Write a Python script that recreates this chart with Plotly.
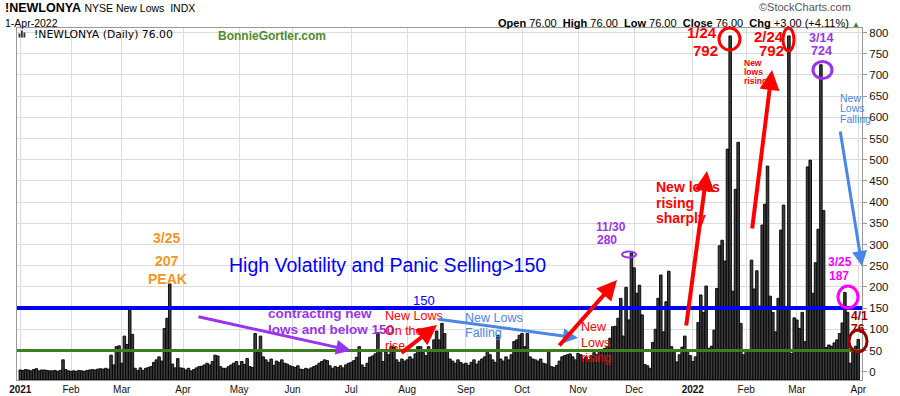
import pandas as pd
import plotly.graph_objects as go

# ---------------- data (NYSE New Lows, daily) ----------------
jan21 = [4, 3, 5, 4, 2, 5, 7, 2, 4, 4, 3, 2, 2, 3, 1, 3, 28, 5, 2]
feb21 = [1, 2, 1, 3, 2, 1, 3, 4, 5, 4, 6, 7, 6, 8, 6, 39, 16, 59, 61]
mar21 = [20, 84, 64, 145, 88, 8, 3, 9, 3, 8, 10, 12, 22, 28, 35, 25, 102, 126, 207, 18, 9, 31, 9]
apr21 = [8, 4, 8, 2, 5, 9, 12, 13, 16, 20, 16, 24, 39, 37, 12, 8, 8, 12, 16, 20, 24]
may21 = [14, 24, 17, 31, 12, 10, 90, 45, 84, 35, 28, 22, 30, 15, 25, 22, 28, 20, 18, 14]
jun21 = [12, 10, 14, 6, 5, 8, 6, 9, 12, 15, 20, 24, 28, 26, 14, 8, 12, 10, 14, 9, 16, 20]
jul21 = [22, 26, 34, 59, 16, 10, 20, 34, 37, 42, 92, 45, 24, 47, 40, 60, 58, 28, 22, 30, 25]
aug21 = [28, 35, 30, 42, 59, 59, 45, 38, 59, 48, 75, 96, 75, 114, 90, 51, 30, 25, 20, 28, 22, 18]
sep21 = [20, 15, 22, 28, 18, 25, 30, 35, 51, 40, 28, 22, 86, 30, 25, 35, 28, 40, 71, 75, 86]
oct21 = [90, 59, 90, 35, 30, 28, 25, 30, 20, 18, 47, 12, 10, 15, 25, 35, 38, 40, 42, 35, 28]
nov21 = [43, 40, 30, 35, 28, 38, 45, 40, 52, 48, 55, 60, 79, 106, 107, 126, 173, 84, 199, 122, 280]
dec21 = [245, 185, 204, 134, 17, 14, 8, 69, 100, 173, 228, 94, 165, 237, 59, 52, 23, 40, 58, 84, 51, 38]
jan22 = [24, 35, 116, 181, 140, 202, 55, 60, 98, 196, 297, 310, 261, 525, 792, 190, 430, 541, 114, 40]
feb22 = [51, 50, 263, 195, 238, 155, 346, 395, 485, 178, 140, 94, 173, 334, 393, 150, 792, 43, 127]
mar22 = [122, 102, 140, 71, 483, 499, 185, 257, 336, 724, 380, 57, 63, 60, 68, 75, 90, 115, 187, 140, 20, 50, 60]
apr22 = [76]

HOLIDAYS = ["2021-01-18", "2021-02-15", "2021-04-02", "2021-05-31", "2021-07-05",
            "2021-09-06", "2021-11-25", "2021-12-24", "2022-01-17", "2022-02-21"]
MONTH_LABELS = ["<b>2021</b>", "Feb", "Mar", "Apr", "May", "Jun", "Jul", "Aug", "Sep",
                "Oct", "Nov", "Dec", "<b>2022</b>", "Feb", "Mar", "Apr"]
Y_TICKS = list(range(0, 801, 50))

values = (jan21 + feb21 + mar21 + apr21 + may21 + jun21 + jul21 + aug21 + sep21 +
          oct21 + nov21 + dec21 + jan22 + feb22 + mar22 + apr22)
dates = [d for d in pd.bdate_range("2021-01-04", "2022-04-01")
         if d.strftime("%Y-%m-%d") not in HOLIDAYS]
labels = [d.strftime("%Y-%m-%d") for d in dates]
n = min(len(labels), len(values))
labels, values = labels[:n], values[:n]

# first trading day of each month -> tick positions
tickvals, seen = [], set()
for d in dates[:n]:
    key = (d.year, d.month)
    if key not in seen:
        seen.add(key)
        tickvals.append(d.strftime("%Y-%m-%d"))

Y_MIN, Y_MAX = -19.6, 810.6

fig = go.Figure()
fig.add_trace(go.Bar(
    x=labels, y=[v - Y_MIN for v in values], base=Y_MIN,
    marker=dict(color="#3c3c3c", line=dict(color="#000000", width=0.9)),
    hoverinfo="skip",
))

# ---------------- layout helpers ----------------
L, R, T, B = 17, 38, 28, 16
W, H = 900, 396
PW, PH = W - L - R, H - T - B


def P(px, py):
    return (px - L) / PW, (H - B - py) / PH


ann, shp = [], []


def txt(s, px, py, color="#000", size=12, bold=False, anchor="center",
        family="Liberation Sans, Arial, sans-serif"):
    x, y = P(px, py)
    ann.append(dict(text=(f"<b>{s}</b>" if bold else s), x=x, y=y, xref="paper", yref="paper",
                    xanchor=anchor, yanchor="middle", showarrow=False,
                    font=dict(color=color, size=size, family=family)))


def arrow(tx, ty, hx, hy, color, width, size=1.0):
    x, y = P(hx, hy)
    ann.append(dict(text="", x=x, y=y, xref="paper", yref="paper", ax=tx - hx, ay=ty - hy,
                    axref="pixel", ayref="pixel", showarrow=True, arrowhead=2,
                    arrowsize=size, arrowwidth=width, arrowcolor=color, standoff=0))


def ellipse(cx, cy, rx, ry, color, width):
    x0, y0 = P(cx - rx, cy + ry)
    x1, y1 = P(cx + rx, cy - ry)
    shp.append(dict(type="circle", xref="paper", yref="paper", x0=x0, y0=y0, x1=x1, y1=y1,
                    line=dict(color=color, width=width)))


# reference lines
shp.append(dict(type="line", xref="paper", x0=0, x1=1, yref="y", y0=150, y1=150,
                line=dict(color="#0000ff", width=4)))
shp.append(dict(type="line", xref="paper", x0=0, x1=1, yref="y", y0=50, y1=50,
                line=dict(color="#3d7f1e", width=3)))

# header
txt("<b>!NEWLONYA</b> <span style='font-size:10.5px'>NYSE New Lows  INDX</span>", 3, 8.5,
    size=12.5, anchor="left")
txt("1-Apr-2022", 3, 22.5, size=10.5, anchor="left")
txt("©StockCharts.com", 853, 7, color="#555", size=11, anchor="right")
txt("<b>Open</b> 76.00  <b>High</b> 76.00  <b>Low</b> 76.00  <b>Close</b> 76.00  "
    "<b>Chg</b> +3.00 (+4.11%) <span style='color:#2e8b2e;font-size:8px'>▲</span>",
    862, 22.5, size=11, anchor="right")
# inner label with tiny bar icon
for (x0, h) in [(18.5, 4), (21, 7), (23.5, 5)]:
    a0, b0 = P(x0, 37.5)
    a1, b1 = P(x0 + 1.8, 37.5 - h)
    shp.append(dict(type="rect", xref="paper", yref="paper", x0=a0, y0=b0, x1=a1, y1=b1,
                    line=dict(width=0), fillcolor="#333"))
txt("!NEWLONYA (Daily) 76.00", 32, 34.5, size=10.8, anchor="left",
    family="DejaVu Sans, Verdana, sans-serif")
txt("BonnieGortler.com", 271.5, 35.5, color="#4d8c2a", size=12, bold=True)

# 2021 peak
OR = "#F5961E"
txt("3/25", 166.5, 238, OR, 14, True)
txt("207", 167, 261, OR, 14, True)
txt("PEAK", 167.5, 278.5, OR, 14, True)

txt("High Volatility and Panic Selling>150", 387, 265, "#0000ff", 19.5)
txt("150", 424, 300, "#0000ff", 13)

PU = "#9933ee"
txt("contracting new", 266, 313, PU, 13.5, True, "left")
txt("lows and below 150", 266, 329, PU, 13.5, True, "left")
arrow(197, 316.5, 351, 350.5, PU, 3)

RED = "#ff0000"
txt("New Lows", 383, 316, RED, 12.5, anchor="left")
txt("On the", 383, 330.5, RED, 12.5, anchor="left")
txt("rise", 383, 345.5, RED, 12.5, anchor="left")
arrow(400, 354, 437, 325, RED, 4)

CB = "#4a86e8"
txt("New Lows", 463, 318, CB, 12.5, anchor="left")
txt("Falling", 463, 333, CB, 12.5, anchor="left")
arrow(437, 319, 578, 338, CB, 3)

txt("New", 579, 327, RED, 12.5, anchor="left")
txt("Lows", 579, 343, RED, 12.5, anchor="left")
txt("rising", 579, 358, RED, 12.5, anchor="left")
arrow(558, 347, 617, 280, RED, 4)

txt("11/30", 611, 227, PU, 12, True)
txt("280", 607, 240, PU, 12, True)
ellipse(629, 254.5, 7, 3, PU, 2)

txt("New lows", 654, 187, RED, 14, True, "left")
txt("rising", 654, 203, RED, 14, True, "left")
txt("sharply", 654, 218, RED, 14, True, "left")
arrow(686, 327, 707, 171, RED, 4)

txt("1/24", 701.5, 33, RED, 15, True)
txt("792", 705, 50.5, RED, 15, True)
ellipse(729.5, 39, 10.5, 11, RED, 3)

txt("2/24", 769, 36.5, RED, 15, True)
txt("792", 771.5, 50, RED, 15, True)
ellipse(788.5, 39.5, 5.5, 11.5, RED, 3)

txt("New", 742, 62.5, RED, 8.5, True, "left")
txt("lows", 742, 72, RED, 8.5, True, "left")
txt("rising", 742, 81, RED, 8.5, True, "left")
arrow(752, 230, 772, 70, RED, 4)

txt("3/14", 821, 37.5, PU, 12.5, True)
txt("724", 821, 51, PU, 12.5, True)
ellipse(822.5, 70, 9.5, 8.5, PU, 3)

txt("New", 838, 98, CB, 10.5, anchor="left")
txt("Lows", 838, 108.5, CB, 10.5, anchor="left")
txt("Falling", 838, 118.5, CB, 10.5, anchor="left")
arrow(840, 130, 862, 266, CB, 3)

MG = "#ff00ff"
txt("3/25", 839.5, 262, MG, 12, True)
txt("187", 838.5, 276, MG, 12, True)
ellipse(848, 297, 10, 11, MG, 3)

DR = "#990000"
txt("4/1", 859, 316, DR, 12, True)
txt("76", 857.5, 329, DR, 12, True)
ellipse(858, 341, 9, 11, DR, 3)

fig.update_layout(
    width=W, height=H, margin=dict(l=L, r=R, t=T, b=B, autoexpand=False),
    paper_bgcolor="#ffffff", plot_bgcolor="#ffffff",
    showlegend=False, bargap=0.04,
    annotations=ann, shapes=shp,
    xaxis=dict(type="category", range=[-1.24, 315.4], tickvals=tickvals, ticktext=MONTH_LABELS,
               automargin=False,
               showgrid=True, gridcolor="#dcdcdc", gridwidth=1, ticks="",
               tickfont=dict(size=10, color="#111", family="Liberation Sans, Arial, sans-serif"),
               showline=True, linecolor="#999", mirror=True, zeroline=False, fixedrange=True),
    yaxis=dict(side="right", range=[Y_MIN, Y_MAX], tickvals=Y_TICKS, automargin=False,
               showgrid=True, gridcolor="#dcdcdc", gridwidth=1, ticks="outside", ticklen=4,
               tickcolor="#999", tickfont=dict(size=11.5, color="#111",
                                                family="Liberation Sans, Arial, sans-serif"),
               showline=True, linecolor="#999", mirror=True, zeroline=False, fixedrange=True),
)

fig.write_html("out.html", config={"displayModeBar": False},
               post_script="document.body.style.margin='0';document.body.style.padding='0';"
                           "document.body.style.overflow='hidden';")
